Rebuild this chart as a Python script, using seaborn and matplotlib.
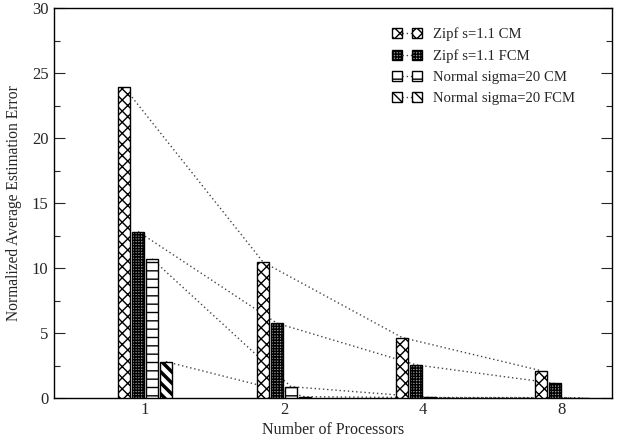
import matplotlib
matplotlib.use('Agg')
import matplotlib.pyplot as plt
import pandas as pd
import seaborn as sns
from matplotlib.patches import Patch
from matplotlib.lines import Line2D
from matplotlib.legend_handler import HandlerTuple

# Data
processors = ['1', '2', '4', '8']
series = ['Zipf s=1.1 CM', 'Zipf s=1.1 FCM', 'Normal sigma=20 CM', 'Normal sigma=20 FCM']
zipf_cm = [23.9, 10.45, 4.65, 2.1]
zipf_fcm = [12.8, 5.75, 2.55, 1.12]
normal_cm = [10.7, 0.87, 0.04, 0.03]
normal_fcm = [2.8, 0.1, 0.02, 0.01]

hatches = ['xxx', '++++++', '--', '\\\\\\']
faces = ['white', '#999999', 'white', 'white']

df = pd.DataFrame({
    'procs': processors * 4,
    'series': [s for s in series for _ in processors],
    'error': zipf_cm + zipf_fcm + normal_cm + normal_fcm,
})

sns.set_style('ticks')
plt.rcParams['font.family'] = ['Liberation Serif', 'DejaVu Serif']
plt.rcParams['hatch.linewidth'] = 1.0

fig = plt.figure(figsize=(6.22, 4.38), dpi=100)
ax = fig.add_axes([54 / 622, 40 / 438, (612 - 54) / 622, (398 - 8) / 438])

sns.barplot(data=df, x='procs', y='error', hue='series', order=processors,
            hue_order=series, palette=faces, saturation=1,
            width=0.4, gap=0.15, edgecolor='black', linewidth=1,
            errorbar=None, legend=False, ax=ax, zorder=3)

# hatch the bars and join bar tops of each series with dotted lines
for cont, h in zip(ax.containers, hatches):
    xs, ys = [], []
    for p in cont.patches:
        p.set_hatch(h)
        if h.startswith('\\') and hasattr(p, 'set_hatch_linewidth'):
            p.set_hatch_linewidth(2.5)
        xs.append(p.get_x() + p.get_width() / 2)
        ys.append(p.get_height())
    ax.plot(xs, ys, color='#444444', linestyle=(0, (1, 2)), linewidth=1, zorder=2)

ax.set_xlim(-0.655, 3.36)
ax.set_ylim(0, 30)
ax.set_yticks(range(0, 31, 5))
ax.set_yticks([2.5 + 5 * i for i in range(6)], minor=True)
ax.tick_params(axis='y', which='major', direction='in', length=8, width=0.8,
               right=True, labelsize=12, pad=4)
ax.tick_params(axis='y', which='minor', direction='in', length=4, width=0.8, right=True)
ax.tick_params(axis='x', length=0, labelsize=12, pad=3)
for s in ax.spines.values():
    s.set_visible(True)
    s.set_linewidth(1)
    s.set_color('black')

ax.set_xlabel('Number of Processors', fontsize=11.5, labelpad=3)
ax.set_ylabel('Normalized Average Estimation Error', fontsize=11.2, labelpad=7)

handles = []
for h, fc in zip(hatches, faces):
    sq = Patch(facecolor=fc, edgecolor='black', hatch=h, linewidth=1)
    ln = Line2D([], [], color='#444444', linestyle=(0, (1, 2)), linewidth=1)
    handles.append((sq, ln, sq))
ax.legend(handles, series, handler_map={tuple: HandlerTuple(ndivide=None, pad=0)},
          loc='upper left', bbox_to_anchor=(0.606, 0.95), frameon=False,
          fontsize=10.6, handlelength=2.0, handleheight=0.6,
          handletextpad=0.8, labelspacing=0.55, borderpad=0, borderaxespad=0)

fig.savefig('out.png', dpi=100)
